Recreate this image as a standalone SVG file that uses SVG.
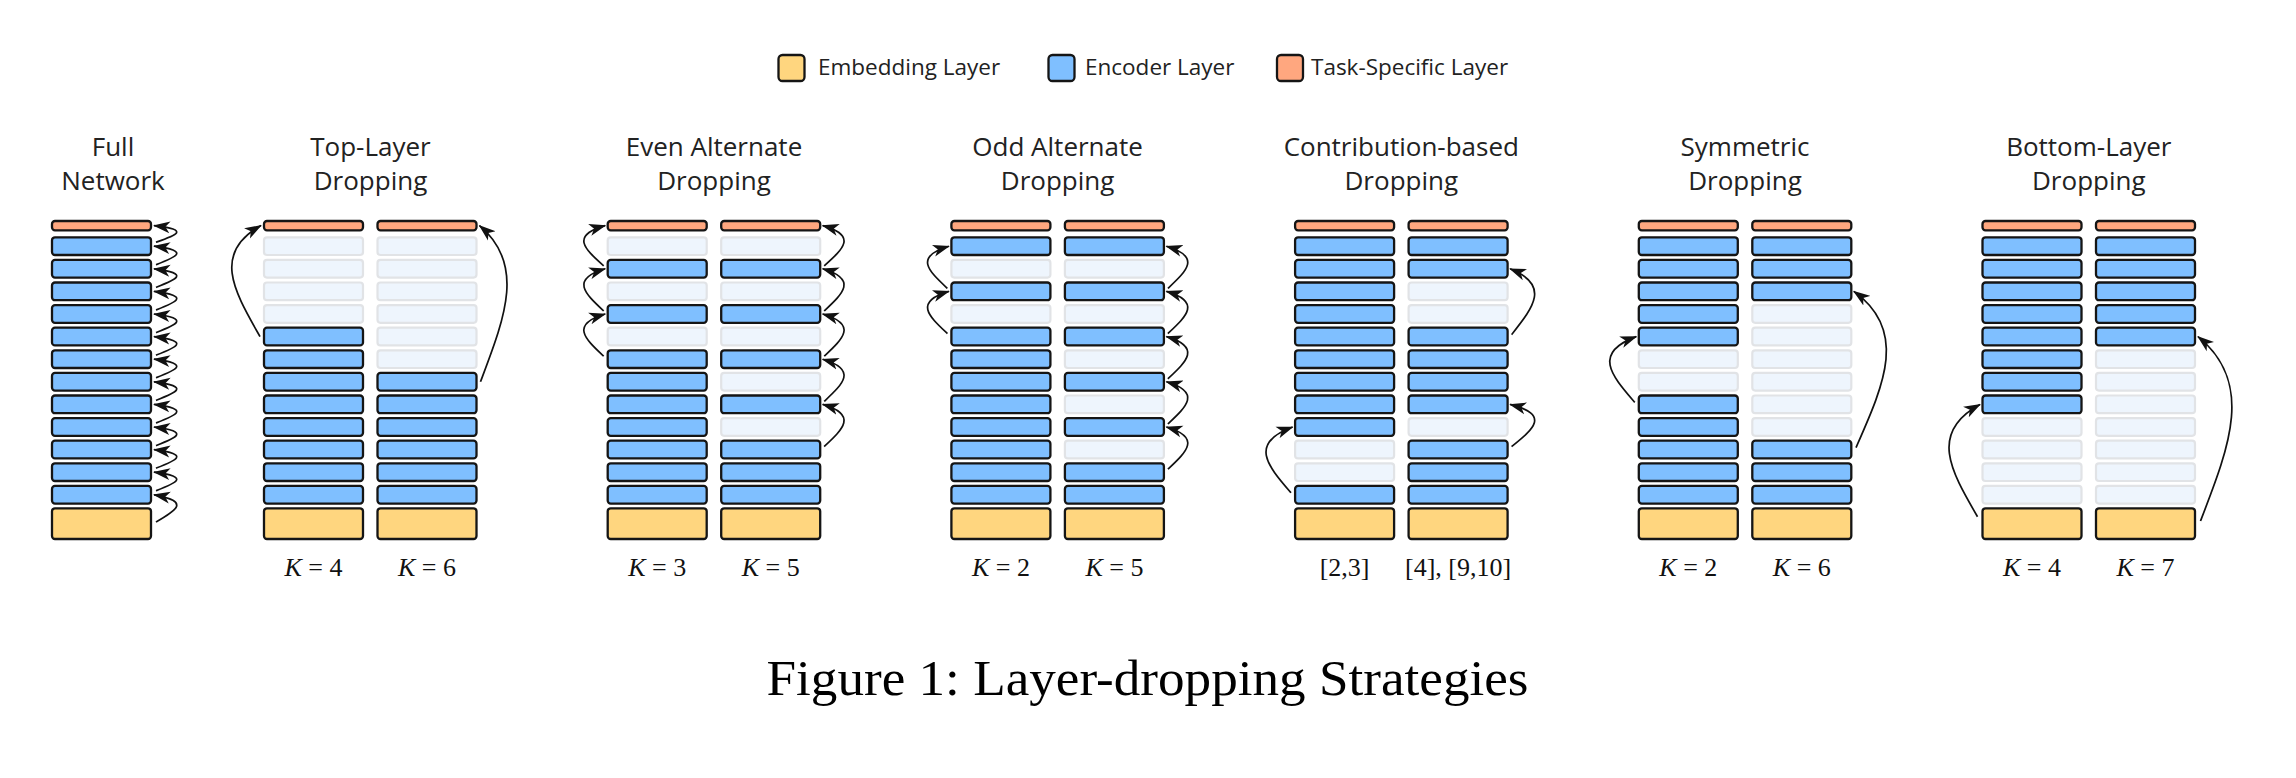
<svg xmlns="http://www.w3.org/2000/svg" width="2296" height="778" viewBox="0 0 2296 778">
<defs>
<style>
.t{fill:#FFA77F;stroke:#151515;stroke-width:2.3}
.e{fill:#7FBFFF;stroke:#151515;stroke-width:2.3}
.m{fill:#FFD67F;stroke:#151515;stroke-width:2.3}
.f{fill:#EEF5FD;stroke:#E1E3E6;stroke-width:2.2}
.a{fill:none;stroke:#111;stroke-width:1.7;marker-end:url(#ah)}
.title{font-family:"Open Sans","Noto Sans",sans-serif;font-size:26px;fill:#222;text-anchor:middle}
.lab{font-family:"Liberation Serif","Times New Roman",serif;font-size:26px;fill:#111;text-anchor:middle}
.leg{font-family:"Open Sans","Noto Sans",sans-serif;font-size:22.5px;fill:#222}
.cap{font-family:"Liberation Serif","Times New Roman",serif;font-size:50px;fill:#000;text-anchor:middle}
</style>
<marker id="ah" viewBox="0 0 17 13" refX="16" refY="6.5" markerWidth="17" markerHeight="13" markerUnits="userSpaceOnUse" orient="auto">
<path d="M0,0.5 L17,6.5 L0,12.5 L4.5,6.5 z" fill="#111"/>
</marker>
</defs>
<rect width="2296" height="778" fill="#fff"/>

<g id="legend">
<rect class="m" x="778.5" y="55" width="26" height="26" rx="4"/>
<text class="leg" x="818" y="74.5">Embedding Layer</text>
<rect class="e" x="1048.5" y="55" width="26" height="26" rx="4"/>
<text class="leg" x="1085" y="74.5">Encoder Layer</text>
<rect class="t" x="1277" y="55" width="26" height="26" rx="4"/>
<text class="leg" x="1311" y="74.5">Task-Specific Layer</text>
</g>

<g id="titles">
<text class="title" x="113" y="156">Full</text><text class="title" x="113" y="190">Network</text>
<text class="title" x="370.5" y="156">Top-Layer</text><text class="title" x="370.5" y="190">Dropping</text>
<text class="title" x="714" y="156">Even Alternate</text><text class="title" x="714" y="190">Dropping</text>
<text class="title" x="1057.6" y="156">Odd Alternate</text><text class="title" x="1057.6" y="190">Dropping</text>
<text class="title" x="1401.3" y="156">Contribution-based</text><text class="title" x="1401.3" y="190">Dropping</text>
<text class="title" x="1745" y="156">Symmetric</text><text class="title" x="1745" y="190">Dropping</text>
<text class="title" x="2088.8" y="156">Bottom-Layer</text><text class="title" x="2088.8" y="190">Dropping</text>
</g>

<g id="full-network" transform="translate(52,0)">
<rect class="t" y="221" width="99" height="9.3" rx="3"/>
<rect class="e" y="237.3" width="99" height="17.7" rx="3"/>
<rect class="e" y="259.9" width="99" height="17.7" rx="3"/>
<rect class="e" y="282.5" width="99" height="17.7" rx="3"/>
<rect class="e" y="305.1" width="99" height="17.7" rx="3"/>
<rect class="e" y="327.7" width="99" height="17.7" rx="3"/>
<rect class="e" y="350.3" width="99" height="17.7" rx="3"/>
<rect class="e" y="372.9" width="99" height="17.7" rx="3"/>
<rect class="e" y="395.5" width="99" height="17.7" rx="3"/>
<rect class="e" y="418.1" width="99" height="17.7" rx="3"/>
<rect class="e" y="440.7" width="99" height="17.7" rx="3"/>
<rect class="e" y="463.3" width="99" height="17.7" rx="3"/>
<rect class="e" y="485.9" width="99" height="17.7" rx="3"/>
<rect class="m" y="508.3" width="99" height="30.7" rx="3"/>
</g>

<g id="top-k4" transform="translate(264,0)">
<rect class="t" y="221" width="99" height="9.3" rx="3"/>
<rect class="f" y="237.3" width="99" height="17.7" rx="3"/>
<rect class="f" y="259.9" width="99" height="17.7" rx="3"/>
<rect class="f" y="282.5" width="99" height="17.7" rx="3"/>
<rect class="f" y="305.1" width="99" height="17.7" rx="3"/>
<rect class="e" y="327.7" width="99" height="17.7" rx="3"/>
<rect class="e" y="350.3" width="99" height="17.7" rx="3"/>
<rect class="e" y="372.9" width="99" height="17.7" rx="3"/>
<rect class="e" y="395.5" width="99" height="17.7" rx="3"/>
<rect class="e" y="418.1" width="99" height="17.7" rx="3"/>
<rect class="e" y="440.7" width="99" height="17.7" rx="3"/>
<rect class="e" y="463.3" width="99" height="17.7" rx="3"/>
<rect class="e" y="485.9" width="99" height="17.7" rx="3"/>
<rect class="m" y="508.3" width="99" height="30.7" rx="3"/>
<text class="lab" x="49.5" y="576"><tspan font-style="italic">K</tspan> = 4</text>
</g>

<g id="top-k6" transform="translate(377.5,0)">
<rect class="t" y="221" width="99" height="9.3" rx="3"/>
<rect class="f" y="237.3" width="99" height="17.7" rx="3"/>
<rect class="f" y="259.9" width="99" height="17.7" rx="3"/>
<rect class="f" y="282.5" width="99" height="17.7" rx="3"/>
<rect class="f" y="305.1" width="99" height="17.7" rx="3"/>
<rect class="f" y="327.7" width="99" height="17.7" rx="3"/>
<rect class="f" y="350.3" width="99" height="17.7" rx="3"/>
<rect class="e" y="372.9" width="99" height="17.7" rx="3"/>
<rect class="e" y="395.5" width="99" height="17.7" rx="3"/>
<rect class="e" y="418.1" width="99" height="17.7" rx="3"/>
<rect class="e" y="440.7" width="99" height="17.7" rx="3"/>
<rect class="e" y="463.3" width="99" height="17.7" rx="3"/>
<rect class="e" y="485.9" width="99" height="17.7" rx="3"/>
<rect class="m" y="508.3" width="99" height="30.7" rx="3"/>
<text class="lab" x="49.5" y="576"><tspan font-style="italic">K</tspan> = 6</text>
</g>

<g id="even-k3" transform="translate(607.7,0)">
<rect class="t" y="221" width="99" height="9.3" rx="3"/>
<rect class="f" y="237.3" width="99" height="17.7" rx="3"/>
<rect class="e" y="259.9" width="99" height="17.7" rx="3"/>
<rect class="f" y="282.5" width="99" height="17.7" rx="3"/>
<rect class="e" y="305.1" width="99" height="17.7" rx="3"/>
<rect class="f" y="327.7" width="99" height="17.7" rx="3"/>
<rect class="e" y="350.3" width="99" height="17.7" rx="3"/>
<rect class="e" y="372.9" width="99" height="17.7" rx="3"/>
<rect class="e" y="395.5" width="99" height="17.7" rx="3"/>
<rect class="e" y="418.1" width="99" height="17.7" rx="3"/>
<rect class="e" y="440.7" width="99" height="17.7" rx="3"/>
<rect class="e" y="463.3" width="99" height="17.7" rx="3"/>
<rect class="e" y="485.9" width="99" height="17.7" rx="3"/>
<rect class="m" y="508.3" width="99" height="30.7" rx="3"/>
<text class="lab" x="49.5" y="576"><tspan font-style="italic">K</tspan> = 3</text>
</g>

<g id="even-k5" transform="translate(721.2,0)">
<rect class="t" y="221" width="99" height="9.3" rx="3"/>
<rect class="f" y="237.3" width="99" height="17.7" rx="3"/>
<rect class="e" y="259.9" width="99" height="17.7" rx="3"/>
<rect class="f" y="282.5" width="99" height="17.7" rx="3"/>
<rect class="e" y="305.1" width="99" height="17.7" rx="3"/>
<rect class="f" y="327.7" width="99" height="17.7" rx="3"/>
<rect class="e" y="350.3" width="99" height="17.7" rx="3"/>
<rect class="f" y="372.9" width="99" height="17.7" rx="3"/>
<rect class="e" y="395.5" width="99" height="17.7" rx="3"/>
<rect class="f" y="418.1" width="99" height="17.7" rx="3"/>
<rect class="e" y="440.7" width="99" height="17.7" rx="3"/>
<rect class="e" y="463.3" width="99" height="17.7" rx="3"/>
<rect class="e" y="485.9" width="99" height="17.7" rx="3"/>
<rect class="m" y="508.3" width="99" height="30.7" rx="3"/>
<text class="lab" x="49.5" y="576"><tspan font-style="italic">K</tspan> = 5</text>
</g>

<g id="odd-k2" transform="translate(951.4,0)">
<rect class="t" y="221" width="99" height="9.3" rx="3"/>
<rect class="e" y="237.3" width="99" height="17.7" rx="3"/>
<rect class="f" y="259.9" width="99" height="17.7" rx="3"/>
<rect class="e" y="282.5" width="99" height="17.7" rx="3"/>
<rect class="f" y="305.1" width="99" height="17.7" rx="3"/>
<rect class="e" y="327.7" width="99" height="17.7" rx="3"/>
<rect class="e" y="350.3" width="99" height="17.7" rx="3"/>
<rect class="e" y="372.9" width="99" height="17.7" rx="3"/>
<rect class="e" y="395.5" width="99" height="17.7" rx="3"/>
<rect class="e" y="418.1" width="99" height="17.7" rx="3"/>
<rect class="e" y="440.7" width="99" height="17.7" rx="3"/>
<rect class="e" y="463.3" width="99" height="17.7" rx="3"/>
<rect class="e" y="485.9" width="99" height="17.7" rx="3"/>
<rect class="m" y="508.3" width="99" height="30.7" rx="3"/>
<text class="lab" x="49.5" y="576"><tspan font-style="italic">K</tspan> = 2</text>
</g>

<g id="odd-k5" transform="translate(1064.9,0)">
<rect class="t" y="221" width="99" height="9.3" rx="3"/>
<rect class="e" y="237.3" width="99" height="17.7" rx="3"/>
<rect class="f" y="259.9" width="99" height="17.7" rx="3"/>
<rect class="e" y="282.5" width="99" height="17.7" rx="3"/>
<rect class="f" y="305.1" width="99" height="17.7" rx="3"/>
<rect class="e" y="327.7" width="99" height="17.7" rx="3"/>
<rect class="f" y="350.3" width="99" height="17.7" rx="3"/>
<rect class="e" y="372.9" width="99" height="17.7" rx="3"/>
<rect class="f" y="395.5" width="99" height="17.7" rx="3"/>
<rect class="e" y="418.1" width="99" height="17.7" rx="3"/>
<rect class="f" y="440.7" width="99" height="17.7" rx="3"/>
<rect class="e" y="463.3" width="99" height="17.7" rx="3"/>
<rect class="e" y="485.9" width="99" height="17.7" rx="3"/>
<rect class="m" y="508.3" width="99" height="30.7" rx="3"/>
<text class="lab" x="49.5" y="576"><tspan font-style="italic">K</tspan> = 5</text>
</g>

<g id="contrib-a" transform="translate(1295.1,0)">
<rect class="t" y="221" width="99" height="9.3" rx="3"/>
<rect class="e" y="237.3" width="99" height="17.7" rx="3"/>
<rect class="e" y="259.9" width="99" height="17.7" rx="3"/>
<rect class="e" y="282.5" width="99" height="17.7" rx="3"/>
<rect class="e" y="305.1" width="99" height="17.7" rx="3"/>
<rect class="e" y="327.7" width="99" height="17.7" rx="3"/>
<rect class="e" y="350.3" width="99" height="17.7" rx="3"/>
<rect class="e" y="372.9" width="99" height="17.7" rx="3"/>
<rect class="e" y="395.5" width="99" height="17.7" rx="3"/>
<rect class="e" y="418.1" width="99" height="17.7" rx="3"/>
<rect class="f" y="440.7" width="99" height="17.7" rx="3"/>
<rect class="f" y="463.3" width="99" height="17.7" rx="3"/>
<rect class="e" y="485.9" width="99" height="17.7" rx="3"/>
<rect class="m" y="508.3" width="99" height="30.7" rx="3"/>
<text class="lab" x="49.5" y="576">[2,3]</text>
</g>

<g id="contrib-b" transform="translate(1408.6,0)">
<rect class="t" y="221" width="99" height="9.3" rx="3"/>
<rect class="e" y="237.3" width="99" height="17.7" rx="3"/>
<rect class="e" y="259.9" width="99" height="17.7" rx="3"/>
<rect class="f" y="282.5" width="99" height="17.7" rx="3"/>
<rect class="f" y="305.1" width="99" height="17.7" rx="3"/>
<rect class="e" y="327.7" width="99" height="17.7" rx="3"/>
<rect class="e" y="350.3" width="99" height="17.7" rx="3"/>
<rect class="e" y="372.9" width="99" height="17.7" rx="3"/>
<rect class="e" y="395.5" width="99" height="17.7" rx="3"/>
<rect class="f" y="418.1" width="99" height="17.7" rx="3"/>
<rect class="e" y="440.7" width="99" height="17.7" rx="3"/>
<rect class="e" y="463.3" width="99" height="17.7" rx="3"/>
<rect class="e" y="485.9" width="99" height="17.7" rx="3"/>
<rect class="m" y="508.3" width="99" height="30.7" rx="3"/>
<text class="lab" x="49.5" y="576">[4], [9,10]</text>
</g>

<g id="sym-k2" transform="translate(1638.8,0)">
<rect class="t" y="221" width="99" height="9.3" rx="3"/>
<rect class="e" y="237.3" width="99" height="17.7" rx="3"/>
<rect class="e" y="259.9" width="99" height="17.7" rx="3"/>
<rect class="e" y="282.5" width="99" height="17.7" rx="3"/>
<rect class="e" y="305.1" width="99" height="17.7" rx="3"/>
<rect class="e" y="327.7" width="99" height="17.7" rx="3"/>
<rect class="f" y="350.3" width="99" height="17.7" rx="3"/>
<rect class="f" y="372.9" width="99" height="17.7" rx="3"/>
<rect class="e" y="395.5" width="99" height="17.7" rx="3"/>
<rect class="e" y="418.1" width="99" height="17.7" rx="3"/>
<rect class="e" y="440.7" width="99" height="17.7" rx="3"/>
<rect class="e" y="463.3" width="99" height="17.7" rx="3"/>
<rect class="e" y="485.9" width="99" height="17.7" rx="3"/>
<rect class="m" y="508.3" width="99" height="30.7" rx="3"/>
<text class="lab" x="49.5" y="576"><tspan font-style="italic">K</tspan> = 2</text>
</g>

<g id="sym-k6" transform="translate(1752.3,0)">
<rect class="t" y="221" width="99" height="9.3" rx="3"/>
<rect class="e" y="237.3" width="99" height="17.7" rx="3"/>
<rect class="e" y="259.9" width="99" height="17.7" rx="3"/>
<rect class="e" y="282.5" width="99" height="17.7" rx="3"/>
<rect class="f" y="305.1" width="99" height="17.7" rx="3"/>
<rect class="f" y="327.7" width="99" height="17.7" rx="3"/>
<rect class="f" y="350.3" width="99" height="17.7" rx="3"/>
<rect class="f" y="372.9" width="99" height="17.7" rx="3"/>
<rect class="f" y="395.5" width="99" height="17.7" rx="3"/>
<rect class="f" y="418.1" width="99" height="17.7" rx="3"/>
<rect class="e" y="440.7" width="99" height="17.7" rx="3"/>
<rect class="e" y="463.3" width="99" height="17.7" rx="3"/>
<rect class="e" y="485.9" width="99" height="17.7" rx="3"/>
<rect class="m" y="508.3" width="99" height="30.7" rx="3"/>
<text class="lab" x="49.5" y="576"><tspan font-style="italic">K</tspan> = 6</text>
</g>

<g id="bottom-k4" transform="translate(1982.5,0)">
<rect class="t" y="221" width="99" height="9.3" rx="3"/>
<rect class="e" y="237.3" width="99" height="17.7" rx="3"/>
<rect class="e" y="259.9" width="99" height="17.7" rx="3"/>
<rect class="e" y="282.5" width="99" height="17.7" rx="3"/>
<rect class="e" y="305.1" width="99" height="17.7" rx="3"/>
<rect class="e" y="327.7" width="99" height="17.7" rx="3"/>
<rect class="e" y="350.3" width="99" height="17.7" rx="3"/>
<rect class="e" y="372.9" width="99" height="17.7" rx="3"/>
<rect class="e" y="395.5" width="99" height="17.7" rx="3"/>
<rect class="f" y="418.1" width="99" height="17.7" rx="3"/>
<rect class="f" y="440.7" width="99" height="17.7" rx="3"/>
<rect class="f" y="463.3" width="99" height="17.7" rx="3"/>
<rect class="f" y="485.9" width="99" height="17.7" rx="3"/>
<rect class="m" y="508.3" width="99" height="30.7" rx="3"/>
<text class="lab" x="49.5" y="576"><tspan font-style="italic">K</tspan> = 4</text>
</g>

<g id="bottom-k7" transform="translate(2096,0)">
<rect class="t" y="221" width="99" height="9.3" rx="3"/>
<rect class="e" y="237.3" width="99" height="17.7" rx="3"/>
<rect class="e" y="259.9" width="99" height="17.7" rx="3"/>
<rect class="e" y="282.5" width="99" height="17.7" rx="3"/>
<rect class="e" y="305.1" width="99" height="17.7" rx="3"/>
<rect class="e" y="327.7" width="99" height="17.7" rx="3"/>
<rect class="f" y="350.3" width="99" height="17.7" rx="3"/>
<rect class="f" y="372.9" width="99" height="17.7" rx="3"/>
<rect class="f" y="395.5" width="99" height="17.7" rx="3"/>
<rect class="f" y="418.1" width="99" height="17.7" rx="3"/>
<rect class="f" y="440.7" width="99" height="17.7" rx="3"/>
<rect class="f" y="463.3" width="99" height="17.7" rx="3"/>
<rect class="f" y="485.9" width="99" height="17.7" rx="3"/>
<rect class="m" y="508.3" width="99" height="30.7" rx="3"/>
<text class="lab" x="49.5" y="576"><tspan font-style="italic">K</tspan> = 7</text>
</g>

<g id="connectors">
<path class="a" d="M156,522 C175,511.1 192,501.6 154,494.8"/>
<path class="a" d="M156,490.8 C175,483.4 192,476.9 154,472.2"/>
<path class="a" d="M156,468.2 C175,460.8 192,454.3 154,449.6"/>
<path class="a" d="M156,445.6 C175,438.2 192,431.7 154,427"/>
<path class="a" d="M156,423 C175,415.6 192,409.1 154,404.4"/>
<path class="a" d="M156,400.4 C175,393 192,386.5 154,381.8"/>
<path class="a" d="M156,377.8 C175,370.4 192,363.9 154,359.2"/>
<path class="a" d="M156,355.2 C175,347.8 192,341.3 154,336.6"/>
<path class="a" d="M156,332.6 C175,325.2 192,318.7 154,314"/>
<path class="a" d="M156,310 C175,302.6 192,296.1 154,291.4"/>
<path class="a" d="M156,287.4 C175,280 192,273.5 154,268.8"/>
<path class="a" d="M156,264.8 C175,257.4 192,250.9 154,246.2"/>
<path class="a" d="M156,242.2 C175,235.6 192,229.8 154,225.6"/>

<path class="a" d="M260,336.6 C235,292.2 211,253.4 261,225.6"/>
<path class="a" d="M480.5,381.8 C504,319.3 526.5,264.7 479.5,225.6"/>

<path class="a" d="M603.7,356.2 C585.7,339.3 569.2,324.6 605.2,314"/>
<path class="a" d="M603.7,311 C585.7,294.1 569.2,279.4 605.2,268.8"/>
<path class="a" d="M603.7,265.8 C585.7,249.7 569.2,235.6 605.2,225.6"/>
<path class="a" d="M824.2,446.6 C842.2,429.7 858.7,415 822.7,404.4"/>
<path class="a" d="M824.2,401.4 C842.2,384.5 858.7,369.8 822.7,359.2"/>
<path class="a" d="M824.2,356.2 C842.2,339.3 858.7,324.6 822.7,314"/>
<path class="a" d="M824.2,311 C842.2,294.1 858.7,279.4 822.7,268.8"/>
<path class="a" d="M824.2,265.8 C842.2,249.7 858.7,235.6 822.7,225.6"/>

<path class="a" d="M947.4,333.6 C929.4,316.7 912.9,302 948.9,291.4"/>
<path class="a" d="M947.4,288.4 C929.4,271.5 912.9,256.8 948.9,246.2"/>
<path class="a" d="M1167.9,469.2 C1185.9,452.3 1202.4,437.6 1166.4,427"/>
<path class="a" d="M1167.9,424 C1185.9,407.1 1202.4,392.4 1166.4,381.8"/>
<path class="a" d="M1167.9,378.8 C1185.9,361.9 1202.4,347.2 1166.4,336.6"/>
<path class="a" d="M1167.9,333.6 C1185.9,316.7 1202.4,302 1166.4,291.4"/>
<path class="a" d="M1167.9,288.4 C1185.9,271.5 1202.4,256.8 1166.4,246.2"/>

<path class="a" d="M1291,492.8 C1268.5,466.5 1247.6,443.5 1292.6,427"/>
<path class="a" d="M1511.6,446.6 C1532.4,429.7 1551.6,415 1510.1,404.4"/>
<path class="a" d="M1511.6,334.6 C1532.4,308.3 1551.6,285.3 1510.1,268.8"/>

<path class="a" d="M1634.8,402.4 C1612.3,376.1 1591.3,353.1 1636.3,336.6"/>
<path class="a" d="M1856,447.6 C1883.5,385.1 1908.8,330.5 1853.8,291.4"/>

<path class="a" d="M1977.5,516.7 C1951.5,471.8 1928,432.5 1980,404.4"/>
<path class="a" d="M2200.5,521 C2229,447.2 2255,382.7 2198,336.6"/>
</g>

<text class="cap" x="1147.5" y="695" textLength="762" lengthAdjust="spacingAndGlyphs">Figure 1: Layer-dropping Strategies</text>
</svg>
